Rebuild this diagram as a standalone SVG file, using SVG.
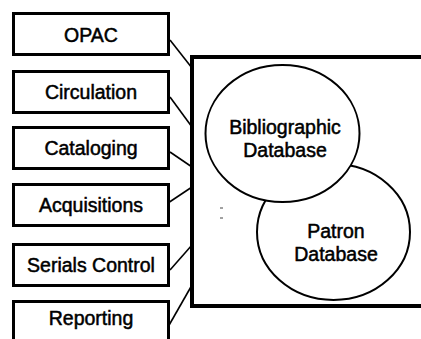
<svg xmlns="http://www.w3.org/2000/svg" width="421" height="339" viewBox="0 0 421 339">
  <style>
    .box { fill: #fff; stroke: #000; stroke-width: 3; }
    .db { fill: #fff; stroke: #000; stroke-width: 2; }
    .lbl { font-family: "Liberation Sans", Arial, sans-serif; font-size: 19.5px; fill: #000; stroke: #000; stroke-width: 0.5; text-anchor: middle; }
    .link { stroke: #000; stroke-width: 1.6; fill: none; }
  </style>
  <rect width="421" height="339" fill="#fff"/>

  <!-- system frame (right side runs off the page) -->
  <g id="system">
    <path d="M423,57 H192 V306 H423" fill="none" stroke="#000" stroke-width="4"/>
    <line x1="220" y1="208" x2="223" y2="208" stroke="#444" stroke-width="1"/>
    <line x1="220" y1="218" x2="223" y2="218" stroke="#444" stroke-width="1"/>
  </g>

  <g id="patron">
    <ellipse class="db" cx="333.5" cy="232" rx="76.5" ry="68"/>
    <text class="lbl" x="336" y="238">Patron</text>
    <text class="lbl" x="336" y="261">Database</text>
  </g>

  <g id="bibliographic">
    <ellipse class="db" cx="282.5" cy="133.5" rx="77" ry="68.5"/>
    <text class="lbl" x="285" y="134">Bibliographic</text>
    <text class="lbl" x="285" y="157">Database</text>
  </g>

  <g id="connectors">
    <line class="link" x1="170" y1="40" x2="192" y2="68"/>
    <line class="link" x1="170" y1="97" x2="192" y2="127"/>
    <line class="link" x1="170" y1="152" x2="192" y2="167"/>
    <line class="link" x1="168" y1="203" x2="192" y2="187"/>
    <line class="link" x1="170" y1="270" x2="192" y2="245"/>
    <line class="link" x1="168" y1="327" x2="192" y2="285"/>
  </g>

  <g id="opac">
    <rect class="box" x="13.5" y="13.5" width="155" height="41"/>
    <text class="lbl" x="91" y="42">OPAC</text>
  </g>
  <g id="circulation">
    <rect class="box" x="13.5" y="71.5" width="155" height="41"/>
    <text class="lbl" x="91" y="99">Circulation</text>
  </g>
  <g id="cataloging">
    <rect class="box" x="13.5" y="127.5" width="155" height="41"/>
    <text class="lbl" x="91" y="155">Cataloging</text>
  </g>
  <g id="acquisitions">
    <rect class="box" x="13.5" y="184.5" width="155" height="41"/>
    <text class="lbl" x="91" y="212">Acquisitions</text>
  </g>
  <g id="serials">
    <rect class="box" x="13.5" y="244.5" width="155" height="41"/>
    <text class="lbl" x="91" y="272">Serials Control</text>
  </g>
  <g id="reporting">
    <path class="box" d="M13.5,345 V301.5 H168.5 V345"/>
    <text class="lbl" x="91" y="325">Reporting</text>
  </g>
</svg>
